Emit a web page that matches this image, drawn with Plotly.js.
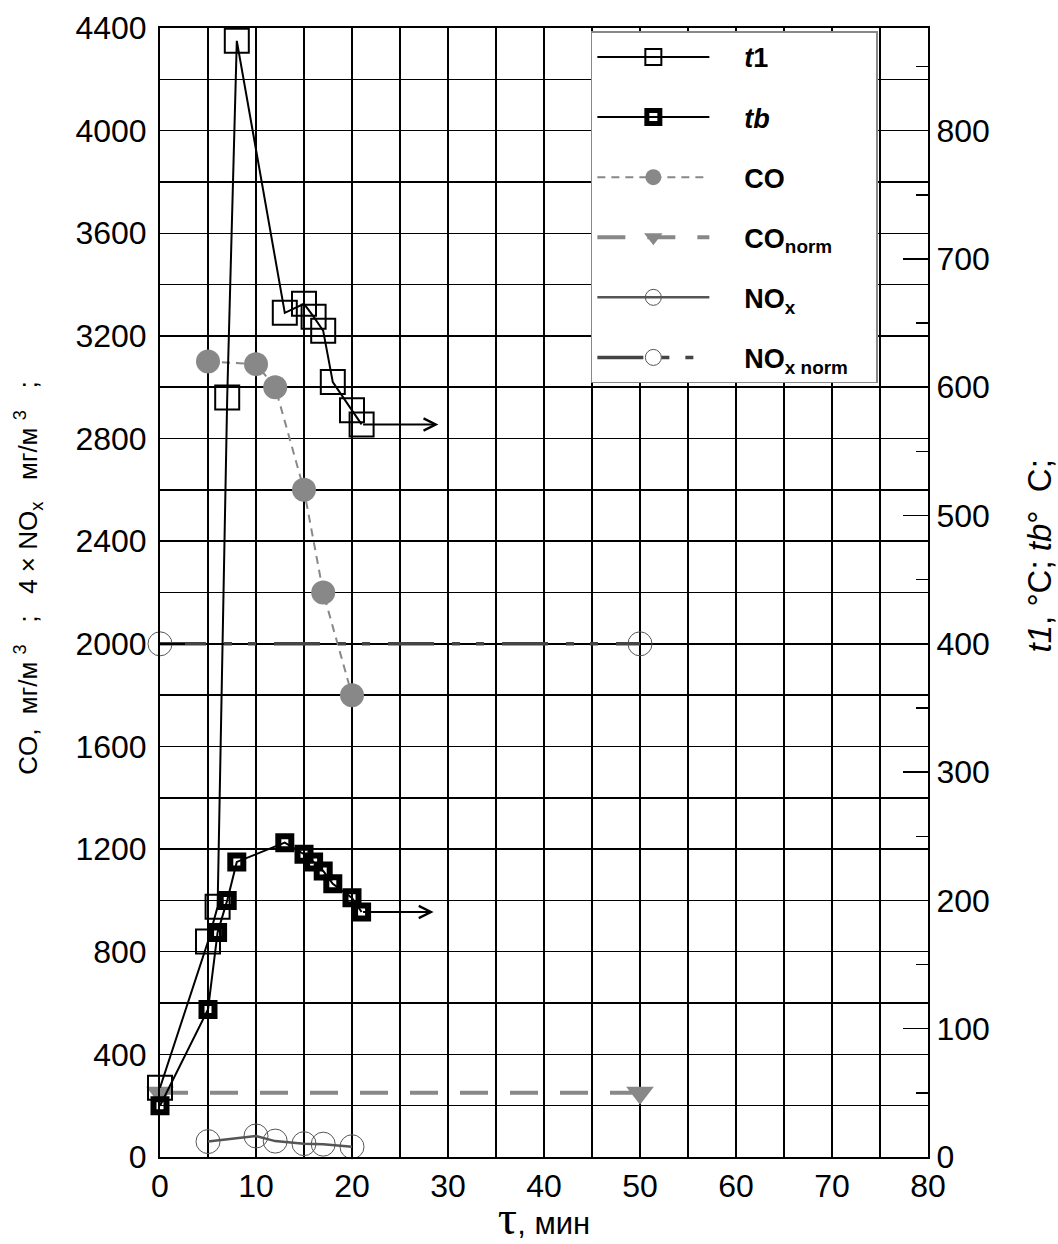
<!DOCTYPE html>
<html>
<head>
<meta charset="utf-8">
<script src="https://cdn.plot.ly/plotly-3.0.1.min.js"></script>
<style>body{margin:0;background:#fff;}#chart{width:1058px;height:1244px;}</style>
</head>
<body>
<div id="chart"></div>
<script>
// time, min
const t1X = [0, 5, 6, 7, 8, 13, 15, 16, 17, 18, 20, 21];
const t1Y = [54, 168, 195, 592, 870, 658, 665, 655, 644, 604, 582, 571]; // °C (right axis)
const tbX = [0, 5, 6, 7, 8, 13, 15, 16, 17, 18, 20, 21];
const tbY = [40, 115, 175, 200, 230, 245, 236, 230, 223, 213, 202, 191]; // °C (right axis)
const coX = [5, 10, 12, 15, 17, 20];
const coY = [3100, 3090, 3000, 2600, 2200, 1800]; // mg/m3
const coNormX = [0, 50];
const coNormY = [250, 250];
const noxX = [5, 10, 12, 15, 17, 20];
const noxY = [60, 82, 62, 52, 50, 40]; // 4*NOx mg/m3
const noxNormX = [0, 50];
const noxNormY = [2000, 2000];
const arrowEndX = [29, 28.5]; // arrows pointing to right axis for t1, tb

const FONT = 'Liberation Sans, Arial, sans-serif';
const PAD = '&nbsp;&nbsp;&nbsp;&nbsp;';
const S = '&nbsp;';

const traces = [
  {x: t1X, y: t1Y, yaxis: 'y2', name: PAD + '<i>t</i>1', legendgroup: 'a', mode: 'lines+markers',
   line: {color: '#000', width: 2},
   marker: {symbol: 'square-open', size: 24, color: '#000', line: {width: 2, color: '#000'}}},
  {x: tbX, y: tbY, yaxis: 'y2', name: PAD + '<i>tb</i>', legendgroup: 'b', mode: 'lines+markers',
   line: {color: '#000', width: 2},
   marker: {symbol: 'square-open', size: 13, color: '#000', line: {width: 6, color: '#000'}}},
  {x: coX, y: coY, name: PAD + 'CO', legendgroup: 'c', mode: 'lines+markers',
   line: {color: '#888', width: 2, dash: '8px,6px'},
   marker: {symbol: 'circle', size: 24, color: '#888'}},
  {x: coNormX, y: coNormY, name: PAD + 'CO<sub>norm</sub>', legendgroup: 'd', mode: 'lines+markers',
   line: {color: '#888', width: 4, dash: '28px,22px'},
   marker: {symbol: 'triangle-down', size: 24, color: '#888'}},
  {x: noxX, y: noxY, name: PAD + 'NO<sub>x</sub>', legendgroup: 'e', mode: 'lines+markers',
   line: {color: '#555', width: 2.5},
   marker: {symbol: 'circle-open', size: 24, color: '#555', line: {width: 1, color: '#555'}}},
  {x: noxNormX, y: noxNormY, name: PAD + 'NO<sub>x norm</sub>&nbsp;&nbsp;&nbsp;', legendgroup: 'f', mode: 'lines+markers',
   line: {color: '#444', width: 3.5, dash: '46px,18px,8px,16px,8px,18px'},
   marker: {symbol: 'circle-open', size: 24, color: '#555', line: {width: 1, color: '#555'}}}
];
traces.forEach(t => { t.cliponaxis = false; });

const annotations = [
  {x: arrowEndX[0], y: t1Y[t1Y.length - 1], ax: t1X[t1X.length - 1], ay: t1Y[t1Y.length - 1],
   xref: 'x', yref: 'y2', axref: 'x', ayref: 'y2', showarrow: true, arrowhead: 5,
   arrowsize: 1.2, arrowwidth: 2, arrowcolor: '#000', text: ''},
  {x: arrowEndX[1], y: tbY[tbY.length - 1], ax: tbX[tbX.length - 1], ay: tbY[tbY.length - 1],
   xref: 'x', yref: 'y2', axref: 'x', ayref: 'y2', showarrow: true, arrowhead: 5,
   arrowsize: 1.2, arrowwidth: 2, arrowcolor: '#000', text: ''}
];

const leftTitle = S.repeat(4) + 'CO,' + S.repeat(2) + 'мг/м' + S + '<sup>3</sup>' + S.repeat(3) + ';' + S.repeat(3) +
  '4' + S + '×' + S + 'NO<sub>x</sub>' + S.repeat(3) + 'мг/м' + S + '<sup>3</sup>' + S.repeat(3) + ';';
const rightTitle = S.repeat(8) + '<i>t1</i>,' + S + '°C;' + S + '<i>tb</i>°' + S.repeat(2) + 'C;';

const layout = {
  width: 1058, height: 1244,
  margin: {l: 160, r: 130, t: 28, b: 87},
  paper_bgcolor: '#fff', plot_bgcolor: '#fff',
  font: {family: FONT, color: '#000', size: 32},
  showlegend: true,
  legend: {
    x: 0.561, y: 0.997, xanchor: 'left', yanchor: 'top',
    bgcolor: '#fff', bordercolor: '#888', borderwidth: 1.5,
    font: {family: FONT, size: 27, color: '#000', weight: 'bold'},
    itemwidth: 112, tracegroupgap: 22, traceorder: 'grouped'
  },
  xaxis: {
    range: [0, 80], dtick: 10, tick0: 0,
    showgrid: true, gridcolor: '#000', gridwidth: 1.5,
    minor: {dtick: 5, showgrid: true, gridcolor: '#000', gridwidth: 1.5},
    showline: true, linecolor: '#000', linewidth: 2, mirror: true,
    ticks: '', zeroline: false,
    tickfont: {size: 32, family: FONT},
    title: {text: '<span style="font-family:Liberation Serif;font-size:48px">τ</span>, мин',
            font: {size: 31, family: FONT}, standoff: 6}
  },
  yaxis: {
    range: [0, 4400], dtick: 400, tick0: 0,
    showgrid: true, gridcolor: '#000', gridwidth: 1.5,
    minor: {dtick: 200, showgrid: true, gridcolor: '#000', gridwidth: 1.5, ticks: 'inside', ticklen: 12, tickcolor: '#000'},
    showline: true, linecolor: '#000', linewidth: 2, mirror: true,
    ticks: 'inside', ticklen: 25, tickcolor: '#000', tickwidth: 1.5,
    zeroline: false, ticklabelstandoff: 5,
    tickfont: {size: 32, family: FONT},
    title: {text: leftTitle, font: {size: 26, family: FONT}, standoff: 30}
  },
  yaxis2: {
    overlaying: 'y', side: 'right', range: [0, 880], dtick: 100, tick0: 0,
    showgrid: false, zeroline: false,
    showline: true, linecolor: '#000', linewidth: 2,
    ticks: 'inside', ticklen: 25, tickcolor: '#000', tickwidth: 1.5,
    minor: {dtick: 50, ticks: 'inside', ticklen: 12, tickcolor: '#000', showgrid: false},
    tickfont: {size: 32, family: FONT},
    title: {text: rightTitle, font: {size: 33, family: FONT}, standoff: 42}
  },
  annotations: annotations
};

Plotly.newPlot('chart', traces, layout, {displayModeBar: false, staticPlot: true});
</script>
</body>
</html>
